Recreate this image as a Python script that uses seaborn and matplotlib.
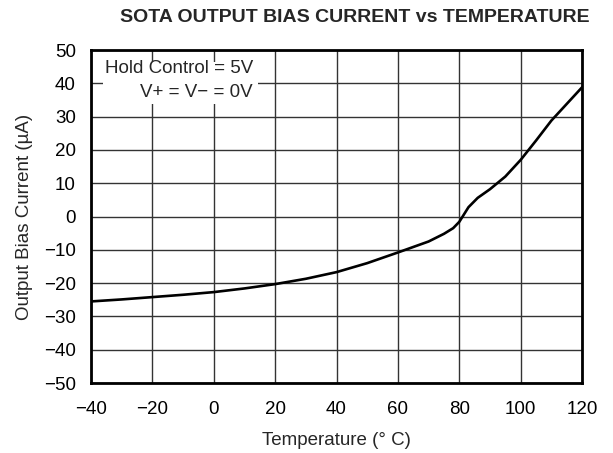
import matplotlib
matplotlib.use("Agg")
import matplotlib.pyplot as plt
from matplotlib.patches import Rectangle
import seaborn as sns
import pandas as pd

# Output bias current of the SOTA versus temperature
temperature_c = [-40, -30, -20, -10, 0, 10, 20, 30, 40, 50, 60, 70, 75, 78, 80, 83, 86, 90, 95, 100, 105, 110, 115, 120]
bias_current_ua = [-25.5, -24.9, -24.2, -23.5, -22.7, -21.6, -20.3, -18.7, -16.7, -14.0, -10.8, -7.5, -5.2, -3.5, -1.6, 2.8, 5.6, 8.2, 12.0, 17.0, 22.8, 28.8, 33.8, 38.8]

x_ticks = [-40, -20, 0, 20, 40, 60, 80, 100, 120]
y_ticks = [-50, -40, -30, -20, -10, 0, 10, 20, 30, 40, 50]

df = pd.DataFrame({"Temperature": temperature_c, "Current": bias_current_ua})

sns.set_style("white")
plt.rcParams["font.family"] = ["Liberation Sans", "DejaVu Sans"]
plt.rcParams["axes.unicode_minus"] = True

fig = plt.figure(figsize=(6.13, 4.53), dpi=100)
ax = fig.add_axes([0.1485, 0.1545, 0.8010, 0.7351])

sns.lineplot(data=df, x="Temperature", y="Current", ax=ax, color="black",
             linewidth=1.9, zorder=5)

ax.set_xlim(-40, 120)
ax.set_ylim(-50, 50)
ax.set_xticks(x_ticks)
ax.set_yticks(y_ticks)
ax.set_xticklabels([f"{v}".replace("-", "\u2212") for v in x_ticks])
ax.set_yticklabels([f"{v}".replace("-", "\u2212") for v in y_ticks])
ax.tick_params(length=0, labelsize=13.5, colors="black")
ax.tick_params(axis="x", pad=13)
ax.tick_params(axis="y", pad=11)
ax.grid(True, color="#333333", linewidth=1.0)
ax.set_axisbelow(True)
for sp in ax.spines.values():
    sp.set_visible(True)
    sp.set_color("black")
    sp.set_linewidth(2.0)

ax.set_xlabel("Temperature (\u00b0 C)", fontsize=13.5, labelpad=10)
ax.set_ylabel("Output Bias Current (\u00b5A)", fontsize=13.5, labelpad=8)

fig.text(0.579, 0.962, "SOTA OUTPUT BIAS CURRENT vs TEMPERATURE",
         ha="center", va="center", fontsize=14, fontweight="bold")

# Condition box in the upper-left corner
ax.add_patch(Rectangle((0.024, 0.838), 0.316, 0.126, transform=ax.transAxes,
                       facecolor="white", edgecolor="none", zorder=3))
ax.text(0.33, 0.943, "Hold Control = 5V", transform=ax.transAxes,
        ha="right", va="center", fontsize=13.5, zorder=4)
ax.text(0.33, 0.871, "V+ = V\u2212 = 0V", transform=ax.transAxes,
        ha="right", va="center", fontsize=13.5, zorder=4)

fig.savefig("out.png", dpi=100)
